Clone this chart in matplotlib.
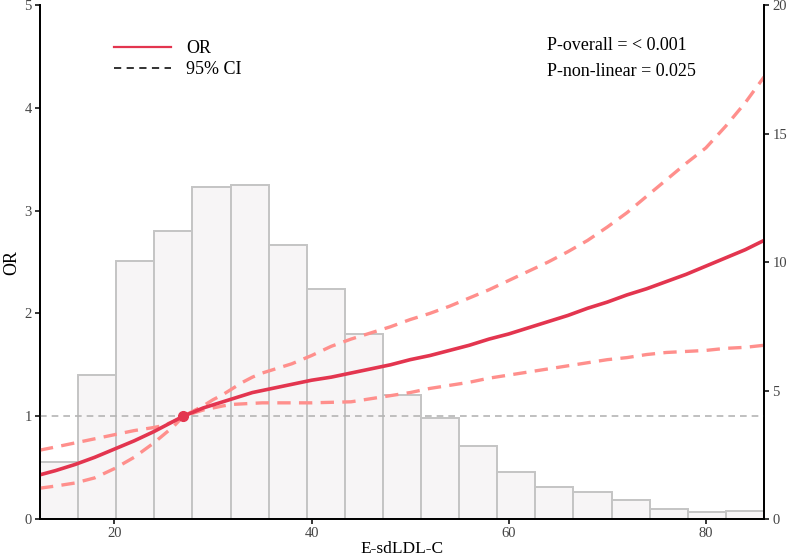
import numpy as np
import matplotlib
matplotlib.use('Agg')
from matplotlib import pyplot as plt
from matplotlib.lines import Line2D

plt.rcParams['font.family'] = ['Liberation Serif', 'DejaVu Serif']

# x range of the plot (also the histogram range)
x_min, x_max = 12.45, 85.9

# histogram heights (right axis, %), 19 equal bins over the x range
hist_counts = [2.2, 5.6, 10.05, 11.2, 12.9, 12.98, 10.65, 8.96, 7.2, 4.84,
               3.94, 2.84, 1.84, 1.24, 1.04, 0.74, 0.38, 0.26, 0.32]

# spline curve points
x_pts = [12.45, 14, 16, 18, 20, 22, 24, 25, 26, 27, 28, 29, 30, 31, 32, 33, 34,
         35, 36, 38, 40, 42, 44, 46, 48, 50, 52, 54, 56, 58, 60, 62, 64, 66,
         68, 70, 72, 74, 76, 78, 80, 82, 84, 85.9]
or_vals = [0.43, 0.47, 0.53, 0.60, 0.68, 0.76, 0.85, 0.90, 0.95, 1.00, 1.04,
           1.08, 1.11, 1.14, 1.17, 1.20, 1.23, 1.25, 1.27, 1.31, 1.35, 1.38,
           1.42, 1.46, 1.50, 1.55, 1.59, 1.64, 1.69, 1.75, 1.80, 1.86, 1.92,
           1.98, 2.05, 2.11, 2.18, 2.24, 2.31, 2.38, 2.46, 2.54, 2.62, 2.71]
upper_vals = [0.67, 0.70, 0.74, 0.78, 0.82, 0.86, 0.89, 0.91, 0.95, 1.00, 1.05,
              1.10, 1.16, 1.21, 1.27, 1.33, 1.38, 1.42, 1.45, 1.51, 1.59, 1.68,
              1.75, 1.81, 1.87, 1.94, 2.00, 2.07, 2.15, 2.23, 2.32, 2.41, 2.50,
              2.60, 2.71, 2.84, 2.98, 3.14, 3.30, 3.46, 3.61, 3.82, 4.05, 4.30]
lower_vals = [0.30, 0.32, 0.35, 0.40, 0.49, 0.60, 0.74, 0.82, 0.90, 1.00, 1.03,
              1.06, 1.08, 1.10, 1.115, 1.12, 1.125, 1.13, 1.13, 1.13, 1.13, 1.135,
              1.14, 1.17, 1.20, 1.23, 1.27, 1.30, 1.33, 1.37, 1.40, 1.43, 1.46,
              1.49, 1.52, 1.55, 1.57, 1.60, 1.62, 1.63, 1.64, 1.66, 1.67, 1.69]
ref_x, ref_or = 27, 1.0

fig = plt.figure(figsize=(7.87, 5.58), dpi=100)
ax = fig.add_axes([0.0508, 0.0699, 0.9200, 0.9211])
ax2 = ax.twinx()

# histogram on the right axis, behind the curves
edges = np.linspace(x_min, x_max, len(hist_counts) + 1)
ax2.bar(edges[:-1], hist_counts, width=np.diff(edges), align='edge',
        color='#f7f5f6', edgecolor='#c4c4c4', linewidth=1.4)
ax2.set_ylim(0, 20)
ax2.set_yticks([0, 5, 10, 15, 20])

ax.set_zorder(ax2.get_zorder() + 1)
ax.patch.set_visible(False)

ax.axhline(1, color='#b5b5b5', linestyle=(0, (4, 3)), linewidth=1.2)
ax.plot(x_pts, upper_vals, color='#ff8f8c', linestyle=(0, (4, 2.5)), linewidth=2.4)
ax.plot(x_pts, lower_vals, color='#ff8f8c', linestyle=(0, (4, 2.5)), linewidth=2.4)
ax.plot(x_pts, or_vals, color='#e3354f', linewidth=2.6)
ax.plot([ref_x], [ref_or], 'o', color='#e3354f', markersize=7)

ax.set_xlim(x_min, x_max)
ax.set_ylim(0, 5)
ax.set_xticks([20, 40, 60, 80])
ax.set_yticks([0, 1, 2, 3, 4, 5])

for a in (ax, ax2):
    a.spines['top'].set_visible(False)
    for s in a.spines.values():
        s.set_linewidth(1.3)
    a.tick_params(labelsize=10.5, labelcolor='#444444', length=3.5, width=1.1, pad=2.5)

ax.set_xlabel('E-sdLDL-C', fontsize=12.5, labelpad=0.5)
ax.set_ylabel('OR', fontsize=13, labelpad=3)

handles = [Line2D([], [], color='#e3354f', linewidth=1.6),
           Line2D([], [], color='#222222', linewidth=1.3, linestyle=(0, (4, 3)))]
ax.legend(handles, ['OR', '95% CI'], loc='upper left', bbox_to_anchor=(0.08, 0.963),
          frameon=False, fontsize=13, handlelength=3.15, handletextpad=0.85,
          labelspacing=0.2)

ax.text(0.700, 0.922, 'P-overall = < 0.001', transform=ax.transAxes, fontsize=13,
        va='center')
ax.text(0.700, 0.870, 'P-non-linear = 0.025', transform=ax.transAxes, fontsize=13,
        va='center')

fig.savefig('out.png', dpi=100)
